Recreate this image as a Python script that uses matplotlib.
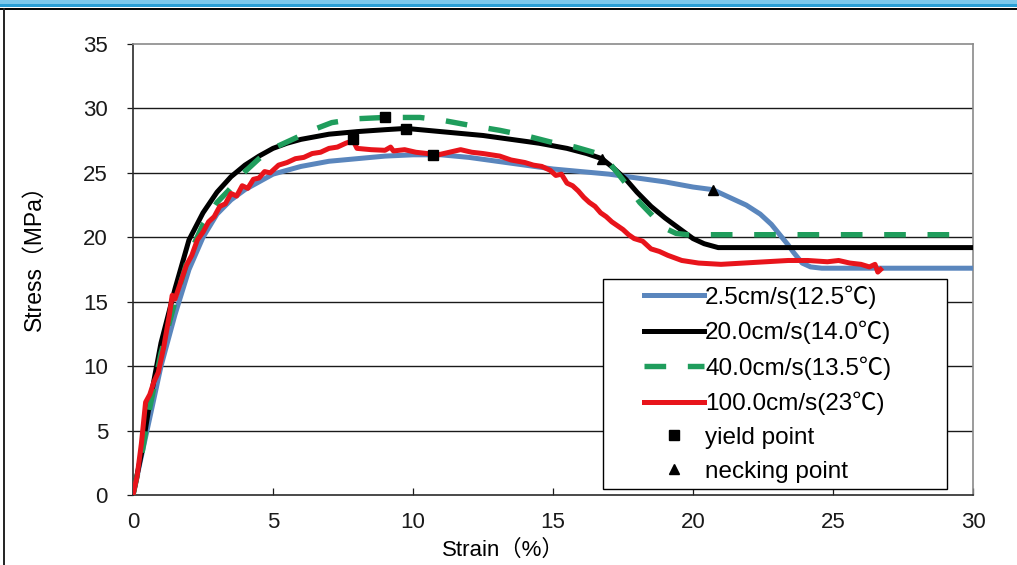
import matplotlib
matplotlib.use("Agg")
import matplotlib.pyplot as plt
from matplotlib.lines import Line2D
from matplotlib.patches import Rectangle
from matplotlib.legend_handler import HandlerLine2D

# Stress-strain curves for four pulling speeds
blue_x = [0, 0.5, 1.0, 1.5, 2.0, 2.5, 3.0, 3.5, 4.0, 5.0, 6.0, 7.0, 8.0, 9.0, 10.0,
          11.0, 12.0, 13.0, 14.0, 15.0, 16.0, 17.0, 18.0, 19.0, 20.0, 20.7, 21.4,
          21.9, 22.4, 22.8, 23.1, 23.4, 23.6, 23.9, 24.2, 24.6, 30.0]
blue_y = [0, 5.0, 10.0, 14.0, 17.5, 20.0, 21.8, 22.9, 23.7, 24.9, 25.5, 25.9, 26.1,
          26.3, 26.4, 26.4, 26.2, 25.9, 25.6, 25.3, 25.1, 24.9, 24.6, 24.3, 23.9,
          23.7, 23.0, 22.5, 21.8, 21.0, 20.2, 19.4, 18.8, 18.0, 17.7, 17.6, 17.6]

black_x = [0, 0.3, 0.6, 1.0, 1.5, 2.0, 2.5, 3.0, 3.5, 4.0, 4.5, 5.0, 5.5, 6.0, 7.0,
           8.0, 9.0, 9.75, 10.5, 11.5, 12.5, 13.5, 14.5, 15.5, 16.2, 16.75, 17.2,
           17.6, 18.0, 18.5, 19.0, 19.5, 20.0, 20.4, 20.9, 30.0]
black_y = [0, 3.2, 7.2, 11.8, 16.0, 19.8, 21.9, 23.5, 24.7, 25.6, 26.3, 26.9, 27.3,
           27.6, 28.0, 28.2, 28.35, 28.45, 28.3, 28.1, 27.9, 27.6, 27.3, 26.9, 26.5,
           26.1, 25.3, 24.5, 23.5, 22.4, 21.5, 20.7, 19.9, 19.5, 19.2, 19.2]

green_x = [0, 0.3, 0.6, 1.0, 1.5, 2.0, 2.5, 3.0, 3.4, 4.0, 4.5, 5.0, 5.5, 6.0, 6.5,
           7.1, 8.0, 9.0, 10.25, 11.0, 12.0, 13.1, 14.0, 14.9, 15.8, 16.6, 17.0,
           17.3, 17.7, 18.1, 18.5, 18.8, 19.1, 19.4, 19.8, 29.6]
green_y = [0, 3.0, 6.8, 11.0, 15.0, 18.6, 21.0, 22.7, 23.6, 25.1, 26.1, 26.9, 27.4,
           27.9, 28.4, 28.9, 29.2, 29.3, 29.3, 29.1, 28.7, 28.3, 27.9, 27.4, 27.0,
           26.5, 25.8, 25.0, 23.9, 22.7, 21.8, 21.1, 20.6, 20.3, 20.2, 20.2]

red_x = [0, 0.15, 0.3, 0.45, 0.6, 0.75, 0.9, 1.1, 1.3, 1.4, 1.5, 1.7, 1.9, 2.1, 2.3,
         2.5, 2.7, 2.9, 3.1, 3.3, 3.5, 3.7, 3.9, 4.1, 4.3, 4.5, 4.7, 4.9, 5.2, 5.5,
         5.8, 6.1, 6.4, 6.7, 7.0, 7.3, 7.6, 7.86, 8.0, 8.5, 9.0, 9.2, 9.3, 9.7, 10.1,
         10.5, 10.9, 11.3, 11.7, 12.1, 12.5, 13.1, 13.5, 14.0, 14.3, 14.6, 14.9, 15.1,
         15.3, 15.5, 15.7, 15.9, 16.1, 16.3, 16.5, 16.7, 16.9, 17.1, 17.3, 17.5, 17.7,
         17.9, 18.2, 18.5, 18.8, 19.1, 19.6, 20.2, 21.0, 21.8, 22.6, 23.4, 24.1, 24.8,
         25.2, 25.6, 26.0, 26.3, 26.5, 26.6, 26.7]
red_y = [0, 1.5, 4.0, 7.2, 7.8, 8.8, 9.5, 11.5, 14.0, 15.5, 15.2, 16.5, 17.8, 18.6,
         19.8, 20.4, 21.2, 21.6, 22.4, 22.6, 23.4, 23.2, 24.0, 23.8, 24.5, 24.6, 25.1,
         25.0, 25.6, 25.8, 26.1, 26.2, 26.5, 26.6, 26.9, 27.0, 27.3, 27.5, 26.9, 26.8,
         26.75, 27.0, 26.7, 26.8, 26.6, 26.5, 26.4, 26.6, 26.8, 26.6, 26.5, 26.3, 26.0,
         25.8, 25.6, 25.5, 25.2, 24.8, 24.9, 24.2, 24.0, 23.6, 23.1, 22.7, 22.4, 21.9,
         21.6, 21.2, 20.9, 20.6, 20.2, 19.9, 19.7, 19.1, 18.9, 18.6, 18.2, 18.0, 17.9,
         18.0, 18.1, 18.2, 18.2, 18.1, 18.2, 18.0, 17.9, 17.7, 17.9, 17.3, 17.5]

yield_x = [10.7, 9.75, 9.0, 7.86]
yield_y = [26.4, 28.4, 29.3, 27.6]
necking_x = [20.7, 16.75]
necking_y = [23.7, 26.1]

series_labels = ["2.5cm/s(12.5\u2103)", "20.0cm/s(14.0\u2103)",
                 "40.0cm/s(13.5\u2103)", "100.0cm/s(23\u2103)"]
x_ticks = [0, 5, 10, 15, 20, 25, 30]
y_ticks = [0, 5, 10, 15, 20, 25, 30, 35]

BLUE = "#5a86bd"
GREEN = "#1f9d5c"
RED = "#e8141b"
LW = 3.6
FONT = ["Liberation Sans", "DejaVu Sans"]
CJK = ["Liberation Sans", "Noto Sans CJK JP", "DejaVu Sans"]

plt.rcParams["font.family"] = FONT

W, H = 1017, 565
fig = plt.figure(figsize=(W / 100, H / 100), dpi=100)
fig.patch.set_facecolor("white")

# page frame: blue band on top, thin black rules
fig.patches.append(Rectangle((0, 1 - 4 / H), 1, 4 / H, transform=fig.transFigure,
                             facecolor="#7cc8ec", edgecolor="none", zorder=0))
fig.patches.append(Rectangle((0, 1 - 7 / H), 1, 3 / H, transform=fig.transFigure,
                             facecolor="#2a9fd6", edgecolor="none", zorder=0))
fig.lines.append(Line2D([0, 1], [1 - 8.5 / H, 1 - 8.5 / H], transform=fig.transFigure,
                        color="black", lw=1.4))
fig.lines.append(Line2D([3.5 / W, 3.5 / W], [0, 1 - 8.5 / H], transform=fig.transFigure,
                        color="#222222", lw=1.4))

ax = fig.add_axes([133 / W, 1 - 495 / H, 840 / W, 451 / H])
ax.set_xlim(0, 30)
ax.set_ylim(0, 35)

for yv in y_ticks[1:-1]:
    ax.axhline(yv, color="#1a1a1a", lw=1.0, zorder=1)

ax.plot(blue_x, blue_y, color=BLUE, lw=LW, zorder=3, solid_joinstyle="round")
ax.plot(black_x, black_y, color="black", lw=LW, zorder=4, solid_joinstyle="round")
ax.plot(green_x, green_y, color=GREEN, lw=LW + 0.3, zorder=5, dashes=(4.0, 4.0))
ax.plot(red_x, red_y, color=RED, lw=LW, zorder=6, solid_joinstyle="round")

ax.plot(yield_x, yield_y, ls="none", marker="s", ms=7.2, color="black", zorder=8)
ax.plot(necking_x, necking_y, ls="none", marker="^", ms=6.5, color="black", zorder=8)

ax.set_xticks(x_ticks)
ax.set_yticks(y_ticks)
ax.tick_params(axis="x", direction="in", length=5, width=0.9, pad=12, labelsize=16,
               colors="#1a1a1a")
ax.tick_params(axis="y", direction="out", length=4, width=0.9, pad=14, labelsize=16,
               colors="#1a1a1a")

for side in ("top", "right"):
    ax.spines[side].set_color("#8a8a8a")
    ax.spines[side].set_linewidth(1.2)
for side in ("left", "bottom"):
    ax.spines[side].set_color("#2a2a2a")
    ax.spines[side].set_linewidth(1.2)

fig.text(503 / W, 1 - 550 / H, "Strain\uff08%\uff09", ha="center", va="center",
         fontsize=16, family=CJK)
fig.text(34 / W, 1 - 252 / H, "Stress\uff08MPa\uff09", ha="center", va="center",
         rotation=90, fontsize=16.5, family=CJK)


class OffsetLineHandler(HandlerLine2D):
    """Line handler whose line sits in the right part of the handle box."""

    def get_xdata(self, legend, xdescent, ydescent, width, height, fontsize):
        xdata = [-xdescent + 0.37 * width, -xdescent + width]
        xmark = [-xdescent + 0.68 * width]
        return xdata, xmark


handles = [
    Line2D([], [], color=BLUE, lw=LW),
    Line2D([], [], color="black", lw=LW),
    Line2D([], [], color=GREEN, lw=LW + 0.3, dashes=(4.0, 4.0)),
    Line2D([], [], color=RED, lw=LW),
    Line2D([], [], ls="none", marker="s", ms=7.2, color="black"),
    Line2D([], [], ls="none", marker="^", ms=6.5, color="black"),
]
labels = series_labels + ["yield point", "necking point"]
x0 = (603 - 133) / 840
x1 = (947 - 133) / 840
y0 = (495 - 489) / 451
leg = ax.legend(handles, labels, loc="lower left", mode="expand",
                bbox_to_anchor=(x0, y0, x1 - x0, 0.4),
                frameon=True, fancybox=False, edgecolor="black", framealpha=1,
                handlelength=3.9, handletextpad=0.05,
                borderpad=0.25, labelspacing=0.49, borderaxespad=0,
                prop={"family": CJK, "size": 17.5},
                handler_map={Line2D: OffsetLineHandler()})
leg.get_frame().set_linewidth(1.0)
leg.set_zorder(10)

fig.savefig("out.png", dpi=100, facecolor="white")
